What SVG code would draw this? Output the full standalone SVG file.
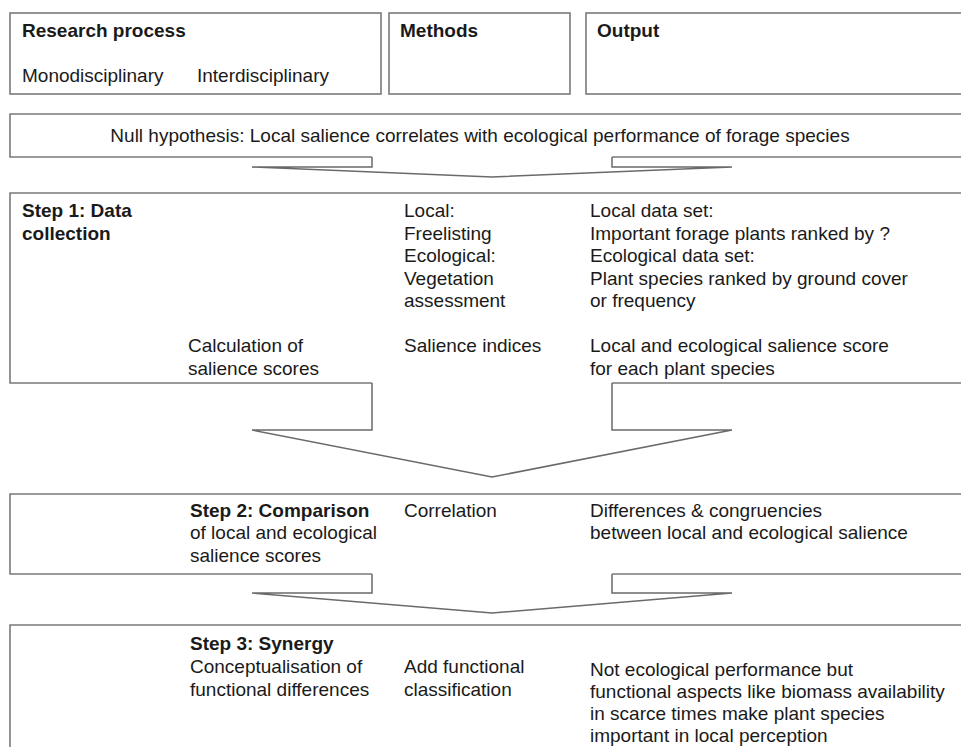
<svg xmlns="http://www.w3.org/2000/svg" width="961" height="747" viewBox="0 0 961 747">
<style>
.box{fill:#fff;stroke:#7a7a7a;stroke-width:1.6}
.edge{fill:none;stroke:#7a7a7a;stroke-width:1.6}
.arrow{fill:#fff;stroke:#6a6a6a;stroke-width:1.5;stroke-linejoin:miter}
text{font-family:"Liberation Sans",Arial,sans-serif;font-size:19px;fill:#1a1a1a}
.b{font-weight:bold}
</style>
<rect width="961" height="747" fill="#fff"/>
<g id="header-process">
<rect class="box" x="10" y="13" width="371" height="81"/>
<text class="b" x="22" y="37">Research process</text>
<text x="22" y="82">Monodisciplinary</text>
<text x="197" y="82">Interdisciplinary</text>
</g>
<g id="header-methods">
<rect class="box" x="389" y="13" width="181" height="81"/>
<text class="b" x="400" y="37">Methods</text>
</g>
<g id="header-output">
<rect class="box" x="586" y="13" width="380" height="81"/>
<text class="b" x="597" y="37">Output</text>
</g>
<g id="null-hypothesis">
<path class="edge" d="M966,157 H612 M372,157 H10 V114 H966"/>
<text x="480" y="142" text-anchor="middle">Null hypothesis: Local salience correlates with ecological performance of forage species</text>
</g>
<g id="step1">
<path class="edge" d="M966,383 H612 M372,383 H10 V193 H966"/>
<text class="b" x="22" y="217">Step 1: Data</text>
<text class="b" x="22" y="240">collection</text>
<text x="404" y="217">Local:</text>
<text x="404" y="240">Freelisting</text>
<text x="404" y="262">Ecological:</text>
<text x="404" y="285">Vegetation</text>
<text x="404" y="307">assessment</text>
<text x="590" y="217">Local data set:</text>
<text x="590" y="240">Important forage plants ranked by ?</text>
<text x="590" y="262">Ecological data set:</text>
<text x="590" y="285">Plant species ranked by ground cover</text>
<text x="590" y="307">or frequency</text>
<text x="188" y="352">Calculation of</text>
<text x="188" y="375">salience scores</text>
<text x="404" y="352">Salience indices</text>
<text x="590" y="352">Local and ecological salience score</text>
<text x="590" y="375">for each plant species</text>
</g>
<g id="step2">
<path class="edge" d="M966,574 H612 M372,574 H10 V494 H966"/>
<text class="b" x="190" y="517">Step 2: Comparison</text>
<text x="190" y="539">of local and ecological</text>
<text x="190" y="562">salience scores</text>
<text x="404" y="517">Correlation</text>
<text x="590" y="517">Differences &amp; congruencies</text>
<text x="590" y="539">between local and ecological salience</text>
</g>
<g id="step3">
<path class="edge" d="M10,760 V625 H966"/>
<text class="b" x="190" y="650">Step 3: Synergy</text>
<text x="190" y="673">Conceptualisation of</text>
<text x="190" y="696">functional differences</text>
<text x="404" y="673">Add functional</text>
<text x="404" y="696">classification</text>
<text x="590" y="676">Not ecological performance but</text>
<text x="590" y="698">functional aspects like biomass availability</text>
<text x="590" y="720">in scarce times make plant species</text>
<text x="590" y="742">important in local perception</text>
</g>
<g id="connectors">
<path class="arrow" d="M372,157 V167 H252 L492,177 L732,167 H612 V157"/>
<path class="arrow" d="M372,383 V430 H252 L492,477 L732,430 H612 V383"/>
<path class="arrow" d="M372,574 V593 H252 L492,613 L732,593 H612 V574"/>
</g>
</svg>
